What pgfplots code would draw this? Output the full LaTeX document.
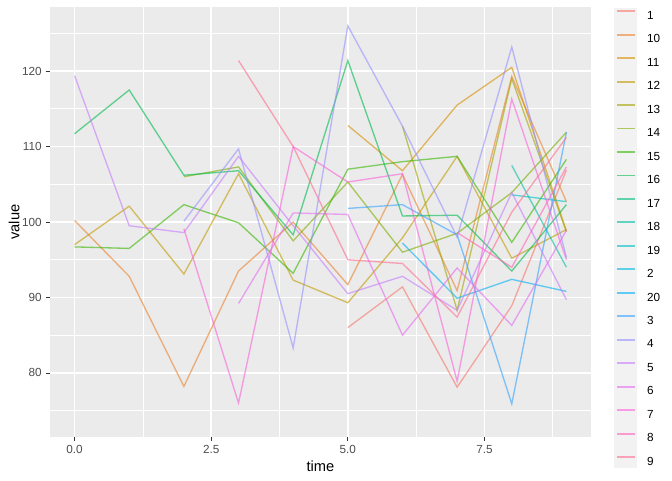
\documentclass[border=0pt]{standalone}
\usepackage{pgfplots}
\pgfplotsset{compat=1.18}
\usepackage{fontspec}
\setmainfont{Liberation Sans}
\definecolor{c1}{HTML}{F8766D}
\definecolor{c10}{HTML}{EA8331}
\definecolor{c11}{HTML}{D89000}
\definecolor{c12}{HTML}{C09B00}
\definecolor{c13}{HTML}{A3A500}
\definecolor{c14}{HTML}{7CAE00}
\definecolor{c15}{HTML}{39B600}
\definecolor{c16}{HTML}{00BB4E}
\definecolor{c17}{HTML}{00BF7D}
\definecolor{c18}{HTML}{00C1A3}
\definecolor{c19}{HTML}{00BFC4}
\definecolor{c2}{HTML}{00BAE0}
\definecolor{c20}{HTML}{00B0F6}
\definecolor{c3}{HTML}{35A2FF}
\definecolor{c4}{HTML}{9590FF}
\definecolor{c5}{HTML}{C77CFF}
\definecolor{c6}{HTML}{E76BF3}
\definecolor{c7}{HTML}{FA62DB}
\definecolor{c8}{HTML}{FF62BC}
\definecolor{c9}{HTML}{FF6C91}
\definecolor{panelbg}{HTML}{EBEBEB}
\definecolor{keybg}{HTML}{F2F2F2}
\definecolor{grey30}{HTML}{4D4D4D}
\definecolor{grey20}{HTML}{333333}
\pgfplotsset{ser/.style={color=#1, line width=1.0pt, opacity=0.6}}
\begin{document}
\begin{tikzpicture}
\begin{axis}[
  scale only axis,
  width=405.75pt, height=322.5pt,
  xmin=-0.45, xmax=9.45, ymin=71.5, ymax=128.5,
  axis background/.style={fill=panelbg},
  axis line style={draw=none},
  xtick={0,2.5,5,7.5}, xticklabels={0.0,2.5,5.0,7.5},
  ytick={80,90,100,110,120},
  minor xtick={1.25,3.75,6.25,8.75},
  minor ytick={75,85,95,105,115,125},
  grid=both,
  major grid style={white, line width=1.07pt},
  minor grid style={white, line width=0.53pt},
  xtick pos=bottom, ytick pos=left,
  tick align=outside,
  major tick length=2.75pt, minor tick length=0pt,
  tick style={grey20, line width=0.53pt},
  /pgf/number format/assume math mode=true,
  ticklabel style={font=\fontsize{8.8}{10}\selectfont, text=grey30},
  xlabel={time}, ylabel={value},
  label style={font=\fontsize{11}{13}\selectfont},
  xlabel style={at={(axis description cs:0.5,-0.0674)}, anchor=center},
  ylabel style={at={(axis description cs:-0.0665,0.5)}, anchor=center},
  clip=false,
  legend style={at={(rel axis cs:1.0462,0.993)}, anchor=north west, draw=none, fill=none,
    font=\fontsize{8.8}{10}\selectfont, row sep=10.75pt, column sep=8.25pt, inner sep=0pt,
    nodes={inner sep=0pt, text height=6.3pt, text depth=0pt}},
  legend cell align=left,
  legend image code/.code={\draw[#1, line width=1.4pt] (0pt,3pt) -- (13.5pt,3pt);},
]
\path (rel axis cs:-0.0924,-0.1) rectangle (rel axis cs:1.1497,1.01628);
\fill[keybg] (rel axis cs:1.0425,-0.072) rectangle (rel axis cs:1.085,0.998);

\addplot[ser=c1] coordinates {(5,86.0)(6,91.4)(7,78.1)(8,88.9)(9,106.9)};
\addlegendentry{1}
\addplot[ser=c10] coordinates {(0,100.2)(1,92.8)(2,78.2)(3,93.5)(4,100.0)(5,91.7)(6,106.3)(7,90.9)(8,119.3)(9,102.7)};
\addlegendentry{10}
\addplot[ser=c11] coordinates {(5,112.8)(6,106.8)(7,115.5)(8,120.5)(9,98.8)};
\addlegendentry{11}
\addplot[ser=c12] coordinates {(0,97.0)(1,102.1)(2,93.1)(3,106.4)(4,92.3)(5,89.3)(6,97.9)(7,108.7)(8,95.2)(9,99.0)};
\addlegendentry{12}
\addplot[ser=c13] coordinates {(6,112.7)(7,88.3)(8,119.0)(9,98.7)};
\addlegendentry{13}
\addplot[ser=c14] coordinates {(2,106.0)(3,107.3)(4,97.5)(5,105.3)(6,96.0)(7,98.5)(8,103.9)(9,111.9)};
\addlegendentry{14}
\addplot[ser=c15] coordinates {(0,96.7)(1,96.5)(2,102.3)(3,99.9)(4,93.2)(5,107.0)(6,108.0)(7,108.7)(8,97.3)(9,108.3)};
\addlegendentry{15}
\addplot[ser=c16] coordinates {(0,111.7)(1,117.5)(2,106.2)(3,106.8)(4,98.3)(5,121.4)(6,100.8)(7,100.9)(8,93.5)(9,102.3)};
\addlegendentry{16}
\addplot[ser=c17] coordinates {(9,98.5)};
\addlegendentry{17}
\addplot[ser=c18] coordinates {(8,107.5)(9,94.0)};
\addlegendentry{18}
\addplot[ser=c19] coordinates {(8,103.6)(9,102.7)};
\addlegendentry{19}
\addplot[ser=c2] coordinates {(9,100.0)};
\addlegendentry{2}
\addplot[ser=c20] coordinates {(6,97.2)(7,89.9)(8,92.4)(9,90.8)};
\addlegendentry{20}
\addplot[ser=c3] coordinates {(5,101.8)(6,102.3)(7,98.3)(8,75.9)(9,111.9)};
\addlegendentry{3}
\addplot[ser=c4] coordinates {(2,100.1)(3,109.7)(4,83.3)(5,126.0)(6,112.7)(7,98.0)(8,123.2)(9,95.3)};
\addlegendentry{4}
\addplot[ser=c5] coordinates {(0,119.4)(1,99.5)(2,98.6)(3,108.7)(4,99.5)(5,90.5)(6,92.8)(7,88.3)(8,103.9)(9,89.7)};
\addlegendentry{5}
\addplot[ser=c6] coordinates {(3,89.2)(4,101.2)(5,101.0)(6,85.0)(7,93.9)(8,86.3)(9,98.9)};
\addlegendentry{6}
\addplot[ser=c7] coordinates {(2,99.1)(3,76.0)(4,110.0)(5,105.3)(6,106.4)(7,78.9)(8,116.3)(9,95.0)};
\addlegendentry{7}
\addplot[ser=c8] coordinates {(7,98.6)(8,94.0)(9,107.3)};
\addlegendentry{8}
\addplot[ser=c9] coordinates {(3,121.4)(4,110.0)(5,95.0)(6,94.5)(7,87.4)(8,101.3)(9,111.2)};
\addlegendentry{9}
\end{axis}
\end{tikzpicture}
\end{document}
